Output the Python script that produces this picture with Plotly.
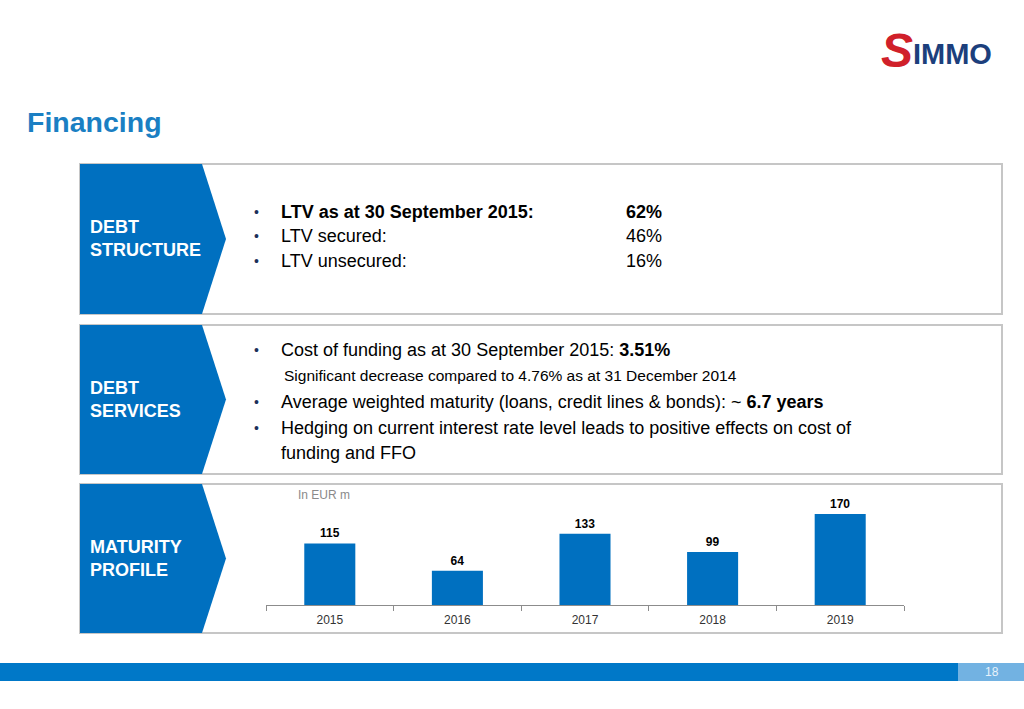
import plotly.graph_objs as go

W, H = 1024, 709

# chart data
years = ["2015", "2016", "2017", "2018", "2019"]
maturities = [115, 64, 133, 99, 170]

# slide texts
title_text = "Financing"
panel_labels = ["DEBT<br>STRUCTURE", "DEBT<br>SERVICES", "MATURITY<br>PROFILE"]
ltv_labels = ["<b>LTV as at 30 September 2015:</b>", "LTV secured:", "LTV unsecured:"]
ltv_values = ["<b>62%</b>", "46%", "16%"]
service_lines = [
    "Cost of funding as at 30 September 2015: <b>3.51%</b>",
    "Average weighted maturity (loans, credit lines & bonds): ~ <b>6.7 years</b>",
    "Hedging on current interest rate level leads to positive effects on cost of",
]
service_note = "Significant decrease compared to 4.76% as at 31 December 2014"
service_wrap = "funding and FFO"
unit_text = "In EUR m"
page_no = "18"

BLUE = "#0070c0"
FONT = "Liberation Sans, Arial, sans-serif"


def px(x):
    return x / W


def py(y):
    return 1 - y / H


shapes = []
annotations = []


def text(x, y, s, size=18, color="black", anchor="left", vanchor="middle"):
    annotations.append(dict(
        x=px(x), y=py(y), xref="paper", yref="paper", text=s, showarrow=False,
        xanchor=anchor, yanchor=vanchor, align="left",
        font=dict(family=FONT, size=size, color=color),
    ))


# three panels with blue chevrons
panels = [(164, 314), (325, 474), (484, 633)]
for (top, bot), lab in zip(panels, panel_labels):
    mid = (top + bot) / 2
    shapes.append(dict(type="rect", xref="paper", yref="paper",
                       x0=px(80), x1=px(1002), y0=py(bot), y1=py(top),
                       fillcolor="white", line=dict(color="#c6c6c6", width=2),
                       layer="below"))
    path = "M {},{} L {},{} L {},{} L {},{} L {},{} Z".format(
        px(80), py(top), px(202), py(top), px(226), py(mid),
        px(202), py(bot), px(80), py(bot))
    shapes.append(dict(type="path", xref="paper", yref="paper", path=path,
                       fillcolor=BLUE, line=dict(width=0), layer="below"))
    text(88, mid, "<b>" + lab + "</b>", size=18, color="white")

# title and logo
text(25, 122, "<b>" + title_text + "</b>", size=28.5, color="#1a7fc3")
text(879, 50, "<b><i>S</i></b>", size=48, color="#d0202a")
text(911, 54, "<b>IMMO</b>", size=29, color="#1c3f7c")

# debt structure bullets
for i, (lab, val) in enumerate(zip(ltv_labels, ltv_values)):
    yy = [212, 236, 261][i]
    text(256, yy, "•", size=14, color="#1c2f5a", anchor="center")
    text(279, yy, lab)
    text(624, yy, val)

# debt services bullets
for yy, s in zip([350, 402, 428], service_lines):
    text(256, yy, "•", size=14, color="#1c2f5a", anchor="center")
    text(279, yy, s)
text(282, 376, service_note, size=15.5)
text(279, 453, service_wrap)

# footer
shapes.append(dict(type="rect", xref="paper", yref="paper",
                   x0=0, x1=px(958), y0=py(681), y1=py(663),
                   fillcolor="#0078c8", line=dict(width=0)))
shapes.append(dict(type="rect", xref="paper", yref="paper",
                   x0=px(958), x1=1, y0=py(681), y1=py(663),
                   fillcolor="#72b2e2", line=dict(width=0)))
text(992, 672, page_no, size=12, color="#e8f2fb", anchor="center")

text(296, 495, unit_text, size=12, color="#8a8a8a")

trace = go.Bar(
    x=years, y=maturities, marker=dict(color=BLUE, line=dict(width=0)),
    texttemplate="<b>%{y}</b>", textposition="outside", cliponaxis=False,
    textfont=dict(family=FONT, size=12, color="black"), hoverinfo="skip",
)

layout = go.Layout(
    width=W, height=H, margin=dict(l=0, r=0, t=0, b=0),
    paper_bgcolor="white", plot_bgcolor="rgba(0,0,0,0)",
    showlegend=False, bargap=0.6,
    xaxis=dict(domain=[px(266), px(904)], showline=True, linecolor="#8c8c8c",
               linewidth=1, ticks="outside", tickson="boundaries", ticklen=5,
               tickcolor="#8c8c8c", showgrid=False, ticklabelstandoff=4,
               tickfont=dict(family=FONT, size=12, color="#333333")),
    yaxis=dict(domain=[py(605), py(500)], range=[0, 196], visible=False,
               showgrid=False, zeroline=False),
    shapes=shapes, annotations=annotations,
)

fig = go.Figure(data=[trace], layout=layout)
fig.write_html("out.html", config=dict(displayModeBar=False),
               post_script="document.body.style.margin='0px';")
